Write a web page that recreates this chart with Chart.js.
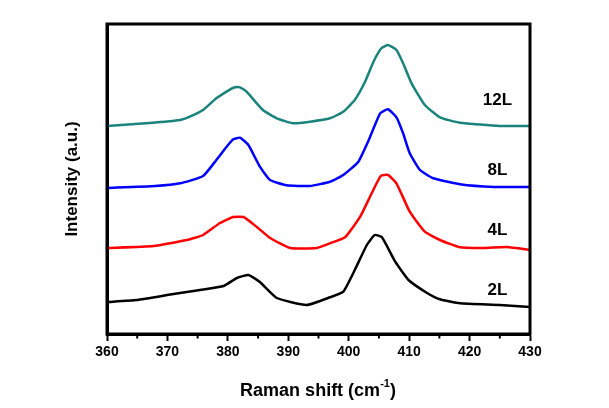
<!DOCTYPE html>
<html>
<head>
<meta charset="utf-8">
<script src="https://cdn.jsdelivr.net/npm/chart.js@4"></script>
<style>
  body { margin: 0; background: #fff; }
  #wrap { width: 609px; height: 408px; }
</style>
</head>
<body>
<div id="wrap"><canvas id="ramanChart"></canvas></div>
<script>
// Données (intensité en unités arbitraires, courbes décalées)
const shift12L = [360, 367, 372.1, 373.7, 375.9, 378.1, 380.4, 381.2, 382, 383.1, 385.8, 388.1, 390.8, 393.6, 396.9, 399.1, 401, 402.7, 404.1, 405.4, 406.5, 407.9, 409, 410.4, 412.6, 415.1, 418.4, 425, 430];
const int12L   = [208, 211, 214, 217.3, 224, 235.7, 244.7, 246.7, 246.7, 242.3, 224, 215.7, 210.7, 212.3, 215.7, 222.3, 234, 252.3, 272.3, 285.7, 289, 284, 270.7, 250.7, 229, 216.7, 211.3, 208, 208];

const shift8L = [360, 368, 372.1, 375.9, 378.1, 379.8, 380.9, 382, 383.4, 385.3, 387, 389.7, 393.6, 396.9, 399.1, 401.6, 403.2, 405.2, 406.5, 407.9, 409, 410.1, 411.8, 414, 418.4, 424, 430];
const int8L   = [146, 148, 150.7, 158, 174, 187.3, 194.7, 196.3, 189, 167.3, 154, 148.7, 148, 152.3, 159, 172.3, 192.3, 220.7, 224.7, 216.7, 200.7, 180.7, 164, 155.7, 149.7, 147, 147];

const shift4L = [360, 367.7, 373.2, 375.9, 378.7, 380.9, 382.6, 384.8, 387, 390.3, 394.7, 396.9, 399.4, 401.9, 403.8, 405.3, 406.5, 407.9, 410.1, 412.6, 415.1, 418.4, 422.3, 426.2, 430];
const int4L   = [86, 88, 94, 99, 111, 117, 117, 107, 96, 86, 86, 90.7, 96.7, 117.3, 140.7, 158, 159, 150.7, 122.3, 102.3, 94, 86.7, 86, 87, 84];

const shift2L = [360, 364.9, 371, 375.4, 379.3, 381.5, 383.4, 385.3, 388.1, 393, 396.9, 399.1, 401, 403, 404.3, 405.5, 407.7, 409.9, 412.9, 415.1, 418.4, 425, 430];
const int2L   = [32, 34, 40, 44, 48, 56, 59, 52, 36, 29, 36.7, 42.3, 64, 89, 99, 96.7, 72.3, 54, 41.3, 34.7, 30.7, 29, 27];

const seriesNames  = ['12L', '8L', '4L', '2L'];
const seriesColors = ['#1a847c', '#0000ff', '#ff0000', '#000000'];
// position des étiquettes (x en cm-1, y en u.a.)
const labelX = 424.6;
const labelY = [234, 164, 104, 44];

const xTicks = [360, 370, 380, 390, 400, 410, 420, 430];
const xMinorTicks = [365, 375, 385, 395, 405, 415, 425];

function toPoints(xs, ys) {
    return xs.map((x, i) => ({ x: x, y: ys[i] }));
}

const allShifts = [shift12L, shift8L, shift4L, shift2L];
const allInts = [int12L, int8L, int4L, int2L];

// Plugin : cadre, petites graduations, étiquettes et titre de l'axe x
const decorPlugin = {
    id: 'decor',
    afterDraw(chart) {
        const ctx = chart.ctx;
        const area = chart.chartArea;
        const xs = chart.scales.x;
        const ys = chart.scales.y;
        ctx.save();
        ctx.strokeStyle = '#000';
        ctx.lineWidth = 3;
        ctx.strokeRect(area.left, area.top, area.right - area.left, area.bottom - area.top);

        ctx.lineWidth = 2;
        xMinorTicks.forEach((v) => {
            const px = xs.getPixelForValue(v);
            ctx.beginPath();
            ctx.moveTo(px, area.bottom);
            ctx.lineTo(px, area.bottom + 4.5);
            ctx.stroke();
        });

        ctx.fillStyle = '#000';
        ctx.font = 'bold 17px "Liberation Sans", Arial, sans-serif';
        ctx.textAlign = 'center';
        ctx.textBaseline = 'middle';
        seriesNames.forEach((name, i) => {
            ctx.fillText(name, xs.getPixelForValue(labelX), ys.getPixelForValue(labelY[i]));
        });

        // titre de l'axe x avec exposant
        const big = 'bold 18px "Liberation Sans", Arial, sans-serif';
        const small = 'bold 11px "Liberation Sans", Arial, sans-serif';
        const p1 = 'Raman shift (cm', p2 = '-1', p3 = ')';
        ctx.font = big;
        const w1 = ctx.measureText(p1).width, w3 = ctx.measureText(p3).width;
        ctx.font = small;
        const w2 = ctx.measureText(p2).width;
        let x0 = 318 - (w1 + w2 + w3) / 2;
        const yb = 396;
        ctx.textAlign = 'left';
        ctx.textBaseline = 'alphabetic';
        ctx.font = big;
        ctx.fillText(p1, x0, yb);
        ctx.font = small;
        ctx.fillText(p2, x0 + w1, yb - 9);
        ctx.font = big;
        ctx.fillText(p3, x0 + w1 + w2, yb);
        ctx.restore();
    }
};

new Chart(document.getElementById('ramanChart').getContext('2d'), {
    type: 'line',
    data: {
        datasets: seriesNames.map((name, i) => ({
            label: name,
            data: toPoints(allShifts[i], allInts[i]),
            borderColor: seriesColors[i],
            borderWidth: 2.5,
            pointRadius: 0,
            tension: 0.15,
            fill: false
        }))
    },
    options: {
        responsive: true,
        maintainAspectRatio: false,
        animation: false,
        layout: { padding: { left: 0, right: 79, top: 24, bottom: 0 } },
        plugins: { legend: { display: false }, tooltip: { enabled: false } },
        scales: {
            x: {
                type: 'linear',
                min: 360,
                max: 430,
                afterFit: (scale) => { scale.height = 74; },
                afterBuildTicks: (scale) => { scale.ticks = xTicks.map((v) => ({ value: v })); },
                grid: { drawOnChartArea: false, drawTicks: true, tickLength: 7, tickWidth: 2, tickColor: '#000' },
                border: { display: true, color: '#000', width: 3 },
                ticks: {
                    color: '#000',
                    padding: 3,
                    maxRotation: 0,
                    font: { family: '"Liberation Sans", Arial, sans-serif', size: 14, weight: 'bold' }
                }
            },
            y: {
                min: 0,
                max: 310,
                afterFit: (scale) => { scale.width = 107; },
                grid: { display: false },
                border: { display: true, color: '#000', width: 3 },
                ticks: { display: false },
                title: {
                    display: true,
                    text: 'Intensity (a.u.)',
                    color: '#000',
                    padding: { top: 62, bottom: 0 },
                    font: { family: '"Liberation Sans", Arial, sans-serif', size: 17, weight: 'bold' }
                }
            }
        }
    },
    plugins: [decorPlugin]
});
</script>
</body>
</html>
